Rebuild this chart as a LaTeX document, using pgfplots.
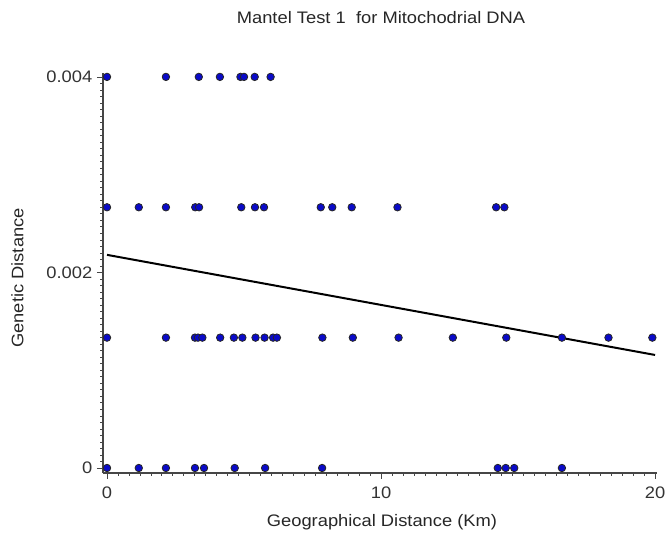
\documentclass[border=0pt]{standalone}
\usepackage{pgfplots}
\pgfplotsset{compat=1.18}
\usepackage{fontspec}
\setmainfont[FakeStretch=1.1]{Liberation Sans}
\definecolor{ptblue}{RGB}{10,10,200}
\definecolor{axgray}{RGB}{70,70,70}
\begin{document}
\begin{tikzpicture}
\path[use as bounding box] (0pt,0pt) rectangle (501pt,406.5pt);
\begin{axis}[
  at={(77.25pt,51.75pt)}, anchor=south west,
  scale only axis, width=415.5pt, height=300pt,
  xmin=-0.146, xmax=20.07, ymin=-0.0000511, ymax=0.00404,
  axis x line*=bottom, axis y line*=left,
  axis line style={axgray, line width=1.3pt},
  xtick={0,10,20}, xticklabels={0,10,20},
  ytick={0,0.002,0.004}, yticklabels={0,0.002,0.004},
  minor x tick num=24, minor y tick num=29,
  tick align=outside,
  major tick length=4.5pt, minor tick length=2.2pt,
  tick style={axgray, line width=0.5pt},
  ticklabel style={font=\fontsize{12.5}{14}\selectfont, text=black!80},
  xticklabel style={yshift=-2pt},
  /pgf/number format/assume math mode=true,
  scaled y ticks=false,
  clip=false,
]
\addplot[only marks, mark=*, mark size=2.8pt, mark options={fill=ptblue, draw=black!85, line width=0.6pt}] table {
x y
0 0.004
2.15 0.004
3.35 0.004
4.12 0.004
4.87 0.004
5.0 0.004
5.39 0.004
5.97 0.004
0 0.0026667
1.16 0.0026667
2.15 0.0026667
3.22 0.0026667
3.36 0.0026667
4.9 0.0026667
5.4 0.0026667
5.73 0.0026667
7.8 0.0026667
8.22 0.0026667
8.93 0.0026667
10.6 0.0026667
14.2 0.0026667
14.5 0.0026667
0 0.0013333
2.15 0.0013333
3.21 0.0013333
3.32 0.0013333
3.48 0.0013333
4.13 0.0013333
4.63 0.0013333
4.94 0.0013333
5.42 0.0013333
5.75 0.0013333
6.06 0.0013333
6.2 0.0013333
7.86 0.0013333
8.97 0.0013333
10.64 0.0013333
12.62 0.0013333
14.57 0.0013333
16.6 0.0013333
18.3 0.0013333
19.9 0.0013333
0 0
1.16 0
2.15 0
3.21 0
3.54 0
4.66 0
5.77 0
7.85 0
14.26 0
14.55 0
14.86 0
16.6 0
};
\addplot[black, line width=1.5pt] coordinates {(0,0.00218) (20,0.001156)};
\end{axis}
\node[font=\fontsize{12.5}{14}\selectfont, text=black!85] at (285.75pt,393pt) {Mantel Test 1\ \ for Mitochodrial DNA};
\node[font=\fontsize{12.5}{14}\selectfont, text=black!85, rotate=90] at (13pt,198pt) {Genetic Distance};
\node[font=\fontsize{12.5}{14}\selectfont, text=black!85] at (286.5pt,15pt) {Geographical Distance (Km)};
\end{tikzpicture}
\end{document}
